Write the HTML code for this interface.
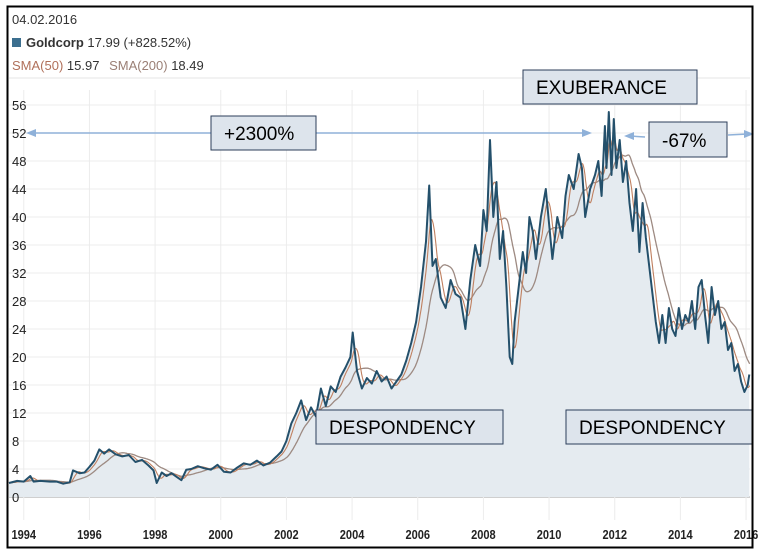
<!DOCTYPE html>
<html><head><meta charset="utf-8"><style>
body{margin:0;background:#fff;font-family:"Liberation Sans",Arial,sans-serif}
svg{display:block}
</style></head><body>
<svg id="c" width="761" height="560" viewBox="0 0 761 560">
<rect x="0" y="0" width="761" height="560" fill="#fff"/>
<g id="grid"></g>
<g id="marks"></g>
<g id="axes"></g>
<text x="12" y="24" font-size="13" fill="#333">04.02.2016</text>
<rect x="12" y="38" width="9" height="9" fill="#3c6f8f"/>
<text x="26" y="47" font-size="13" fill="#333"><tspan font-weight="bold">Goldcorp</tspan> 17.99 (+828.52%)</text>
<text x="12" y="70" font-size="13" fill="#333"><tspan fill="#b0705a">SMA(50)</tspan> 15.97 <tspan dx="6" fill="#9a7f75">SMA(200)</tspan> 18.49</text>
<line x1="9" y1="78" x2="750" y2="78" stroke="#e4e4e4"/>
<g>
<line x1="32" y1="133" x2="586" y2="133" stroke="#8fb1d9" stroke-width="1.5"/>
<polygon points="26,133 36,129 36,137" fill="#8fb1d9"/>
<polygon points="592,133 582,129 582,137" fill="#8fb1d9"/>
<line x1="630" y1="136" x2="645" y2="137" stroke="#8fb1d9" stroke-width="1.5"/>
<polygon points="624,136 634,132 634,140" fill="#8fb1d9"/>
<line x1="728" y1="135" x2="748" y2="134" stroke="#8fb1d9" stroke-width="1.5"/>
<polygon points="754,134 744,130 744,138" fill="#8fb1d9"/>
<rect x="523" y="70" width="174" height="34" fill="#dde4ec" stroke="#2c3e5a"/>
<text x="536" y="94" font-size="19" fill="#000">EXUBERANCE</text>
<rect x="211" y="116" width="105" height="34" fill="#dde4ec" stroke="#2c3e5a"/>
<text x="224" y="140" font-size="19" fill="#000">+2300%</text>
<rect x="649" y="122" width="78" height="35" fill="#dde4ec" stroke="#2c3e5a"/>
<text x="662" y="147" font-size="19" fill="#000">-67%</text>
<rect x="316" y="410" width="187" height="34" fill="#dde4ec" stroke="#2c3e5a"/>
<text x="329" y="434" font-size="19" fill="#000">DESPONDENCY</text>
<rect x="566" y="410" width="186" height="34" fill="#dde4ec" stroke="#2c3e5a"/>
<text x="579" y="434" font-size="19" fill="#000">DESPONDENCY</text>
</g>
<rect x="7.5" y="6.5" width="745" height="541" fill="none" stroke="#000" stroke-width="2"/>
</svg>
<script>
const yTicks=[0,4,8,12,16,20,24,28,32,36,40,44,48,52,56];
const xTicks=[1994,1996,1998,2000,2002,2004,2006,2008,2010,2012,2014,2016];
const times=[1993.55,1993.8,1994.0,1994.2,1994.3,1994.5,1994.8,1995.0,1995.2,1995.4,1995.5,1995.7,1995.85,1996.0,1996.15,1996.3,1996.45,1996.6,1996.8,1997.0,1997.2,1997.4,1997.6,1997.8,1997.95,1998.05,1998.2,1998.35,1998.5,1998.65,1998.8,1998.95,1999.1,1999.3,1999.5,1999.7,1999.9,2000.1,2000.3,2000.5,2000.7,2000.9,2001.1,2001.3,2001.5,2001.7,2001.85,2002.0,2002.15,2002.3,2002.45,2002.6,2002.75,2002.9,2003.05,2003.2,2003.35,2003.5,2003.65,2003.8,2003.95,2004.02,2004.15,2004.3,2004.45,2004.6,2004.75,2004.9,2005.05,2005.2,2005.35,2005.5,2005.65,2005.8,2005.95,2006.1,2006.25,2006.35,2006.45,2006.55,2006.7,2006.85,2007.0,2007.15,2007.3,2007.45,2007.6,2007.75,2007.9,2008.0,2008.1,2008.2,2008.3,2008.4,2008.5,2008.6,2008.7,2008.8,2008.88,2008.95,2009.05,2009.2,2009.3,2009.4,2009.5,2009.6,2009.75,2009.9,2010.0,2010.1,2010.25,2010.4,2010.5,2010.6,2010.75,2010.9,2011.0,2011.1,2011.25,2011.4,2011.5,2011.6,2011.7,2011.75,2011.82,2011.9,2011.97,2012.05,2012.15,2012.25,2012.35,2012.45,2012.55,2012.65,2012.75,2012.85,2012.95,2013.05,2013.15,2013.25,2013.35,2013.45,2013.55,2013.65,2013.75,2013.85,2013.95,2014.05,2014.15,2014.25,2014.35,2014.45,2014.55,2014.65,2014.75,2014.85,2014.95,2015.05,2015.15,2015.25,2015.35,2015.45,2015.55,2015.65,2015.75,2015.85,2015.95,2016.05,2016.1];
const price=[2.0,2.3,2.2,3.0,2.2,2.3,2.2,2.2,1.9,2.1,3.8,3.4,3.5,4.3,5.2,6.8,6.2,6.8,6.1,5.8,6.0,5.0,5.3,4.5,3.8,2.0,3.5,3.0,3.4,2.9,2.4,3.9,4.0,4.4,4.1,3.9,4.6,3.6,3.5,4.2,4.8,4.6,5.2,4.5,4.9,5.8,6.5,8.0,10.5,12.0,13.8,11.0,12.8,11.5,15.5,13.0,15.8,15.0,17.2,18.5,20.0,23.5,18.0,15.5,17.0,16.2,18.0,16.5,17.2,15.5,16.5,17.5,19.5,22.0,25.0,30.0,36.5,44.5,33.0,34.0,28.5,27.0,31.0,29.0,28.5,24.0,31.0,36.0,33.0,41.0,38.0,51.0,40.0,45.0,34.0,38.0,30.0,20.0,19.0,25.0,29.0,35.0,32.0,40.0,38.0,34.0,40.0,44.0,39.0,34.0,40.0,37.0,43.0,46.0,44.0,49.0,47.0,40.0,44.0,46.0,48.0,43.0,53.0,47.0,55.0,46.0,54.0,47.0,51.0,45.0,48.0,42.0,38.0,44.0,35.0,42.0,37.0,33.0,29.0,25.0,22.0,26.0,22.0,27.0,24.0,23.0,27.0,24.0,26.0,25.0,28.0,24.0,30.0,31.0,26.0,22.0,30.0,26.0,28.0,24.0,25.0,21.0,22.0,18.0,19.0,16.5,15.0,16.0,17.5];
const X0=1993.55,X1=2016.12,PX0=9,PX1=750,Y0=497,PPU=7.0;
const sx=t=>PX0+(t-X0)/(X1-X0)*(PX1-PX0);
const sy=v=>Y0-v*PPU;
const NS="http://www.w3.org/2000/svg";
function mk(tag,attrs,parent){const e=document.createElementNS(NS,tag);for(const k in attrs)e.setAttribute(k,attrs[k]);document.getElementById(parent).appendChild(e);return e;}
for(const v of yTicks){
  const l=mk('line',{x1:PX0,x2:PX1,y1:sy(v),y2:sy(v),stroke:v===0?'#cfcfcf':'#ececec','stroke-width':v===0?2:1},'grid');
  
  
  const t=mk('text',{x:12,y:sy(v)+5,'font-size':13,fill:'#222'},'axes');t.textContent=v;
  
  
}
for(const yr of xTicks){
  const x=sx(yr);
  const l=mk('line',{x1:x,x2:x,y1:90,y2:520,stroke:'#ececec'},'grid');
  
  
  const t=mk('text',{x:x,y:539,'font-size':13,'font-weight':'bold',fill:'#222','text-anchor':'middle',transform:`translate(${x},539) scale(0.85,1) translate(${-x},-539)`},'axes');t.textContent=yr;
  
  
}
function at(t){if(t<=times[0])return price[0];for(let i=1;i<times.length;i++){if(t<=times[i]){const f=(t-times[i-1])/(times[i]-times[i-1]);return price[i-1]+f*(price[i]-price[i-1]);}}return price[price.length-1];}
function sma(win){const pts=[];for(let t=X0;t<=X1;t+=0.02){let s=0,n=0;for(let u=Math.max(X0,t-win);u<=t;u+=0.01){s+=at(u);n++;}pts.push([sx(t),sy(s/n)]);}return pts;}
const line=times.map((t,i)=>[sx(t),sy(price[i])]);
let area=`M${sx(times[0])},${Y0} `+line.map(p=>`L${p[0].toFixed(1)},${p[1].toFixed(1)}`).join(' ')+` L${sx(times[times.length-1])},${Y0} Z`;
const a=mk('path',{d:area,fill:'#e5ebf0'},'marks');


const s200=mk('path',{d:'M'+sma(0.8).map(p=>p[0].toFixed(1)+','+p[1].toFixed(1)).join(' L'),fill:'none',stroke:'#9d8a82','stroke-width':1.3},'marks');


const s50=mk('path',{d:'M'+sma(0.2).map(p=>p[0].toFixed(1)+','+p[1].toFixed(1)).join(' L'),fill:'none',stroke:'#c08060','stroke-width':1.1},'marks');


const pl=mk('path',{d:'M'+line.map(p=>p[0].toFixed(1)+','+p[1].toFixed(1)).join(' L'),fill:'none',stroke:'#24506b','stroke-width':2,'stroke-linejoin':'round'},'marks');


</script>
</body></html>
